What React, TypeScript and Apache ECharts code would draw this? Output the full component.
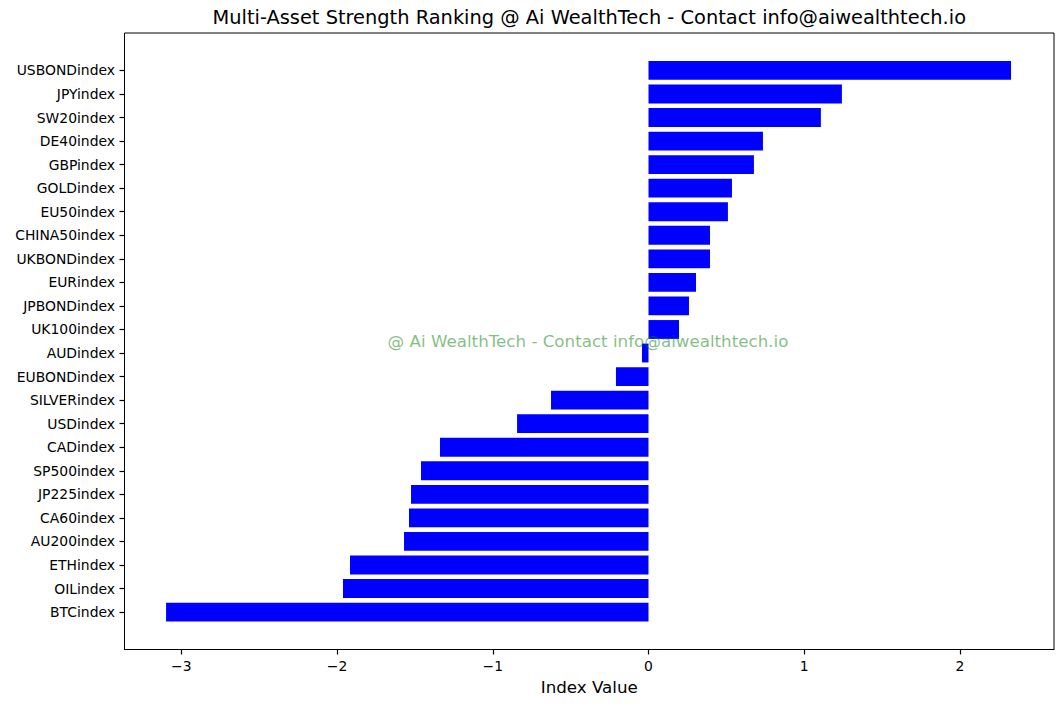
import React, { useEffect, useRef } from "react";
import * as echarts from "echarts";

const categories = [
  "USBONDindex", "JPYindex", "SW20index", "DE40index", "GBPindex", "GOLDindex",
  "EU50index", "CHINA50index", "UKBONDindex", "EURindex", "JPBONDindex", "UK100index",
  "AUDindex", "EUBONDindex", "SILVERindex", "USDindex", "CADindex", "SP500index",
  "JP225index", "CA60index", "AU200index", "ETHindex", "OILindex", "BTCindex",
];
const values = [
  2.328, 1.242, 1.107, 0.735, 0.677, 0.536,
  0.51, 0.395, 0.395, 0.305, 0.26, 0.196,
  -0.042, -0.209, -0.626, -0.844, -1.339, -1.461,
  -1.525, -1.538, -1.57, -1.917, -1.962, -3.098,
];
const xTicks = [-3, -2, -1, 0, 1, 2];
const xMin = -3.365;
const xMax = 2.604;

const titleText = "Multi-Asset Strength Ranking @ Ai WealthTech - Contact info@aiwealthtech.io";
const watermark = "@ Ai WealthTech - Contact info@aiwealthtech.io";
const xName = "Index Value";

const FONT = "'DejaVu Sans', sans-serif";
const fmt = (v: number) => (v < 0 ? "\u2212" + Math.abs(v) : String(v));

export default function App() {
  const ref = useRef<HTMLDivElement>(null);
  useEffect(() => {
    if (!ref.current) return;
    const chart = echarts.init(ref.current, null, { renderer: "svg" });
    const frameTop = 33;
    const frameBottom = 649.5;
    const left = 124.5;
    const right = 1063 - 1054;
    const center = (frameTop + frameBottom) / 2;
    const step = 23.55;
    const barsTop = center - 12 * step;
    const barsBottom = 706 - (center + 12 * step);
    chart.setOption({
      animation: false,
      backgroundColor: "#ffffff",
      textStyle: { fontFamily: FONT },
      title: {
        text: titleText,
        left: (left + 1054) / 2,
        textAlign: "center",
        top: 8,
        padding: 0,
        textStyle: { fontFamily: FONT, fontSize: 19.4, fontWeight: "normal", color: "#000" },
      },
      grid: [
        { left, right, top: barsTop, bottom: barsBottom, containLabel: false },
        {
          left, right, top: frameTop, bottom: 706 - frameBottom, containLabel: false,
          show: true, borderColor: "#000", borderWidth: 1, backgroundColor: "transparent",
        },
      ],
      xAxis: [
        {
          gridIndex: 0, type: "value", min: xMin, max: xMax, show: false,
        },
        {
          gridIndex: 1, type: "value", min: xMin, max: xMax, position: "bottom",
          axisLine: { show: true, onZero: false, lineStyle: { color: "#000", width: 1 } },
          splitLine: { show: false },
          axisTick: {
            show: true, inside: false, length: 5, lineStyle: { color: "#000", width: 1.2 },
            customValues: xTicks,
          },
          axisLabel: {
            customValues: xTicks, formatter: fmt, fontSize: 13.9, color: "#000",
            fontFamily: FONT, margin: 9.5,
          },
          name: xName,
          nameLocation: "middle",
          nameGap: 29,
          nameTextStyle: { fontSize: 16.7, color: "#000", fontFamily: FONT },
        },
      ],
      yAxis: [
        {
          gridIndex: 0, type: "category", data: categories, inverse: true, position: "left",
          axisLine: { show: true, onZero: false, lineStyle: { color: "#000", width: 1 } },
          axisTick: {
            show: true, interval: 0, alignWithLabel: true, inside: false, length: 5,
            lineStyle: { color: "#000", width: 1.2 },
          },
          axisLabel: { interval: 0, fontSize: 13.9, color: "#000", fontFamily: FONT, margin: 9.5 },
          splitLine: { show: false },
        },
        {
          gridIndex: 1, type: "value", min: 0, max: 1, show: false,
        },
      ],
      series: [
        {
          type: "bar",
          xAxisIndex: 0,
          yAxisIndex: 0,
          data: values,
          barWidth: "80%",
          itemStyle: { color: "#0000ff" },
        },
      ],
      graphic: [
        {
          type: "text",
          x: 588,
          y: 341,
          z: 100,
          style: {
            text: watermark,
            fontSize: 16.7,
            fontFamily: FONT,
            fill: "rgba(0,128,0,0.5)",
            textAlign: "center",
            textVerticalAlign: "middle",
          },
        },
      ],
    });
    return () => chart.dispose();
  }, []);
  return (
    <div
      ref={ref}
      style={{ position: "fixed", left: 0, top: 0, width: 1063, height: 706 }}
    />
  );
}
